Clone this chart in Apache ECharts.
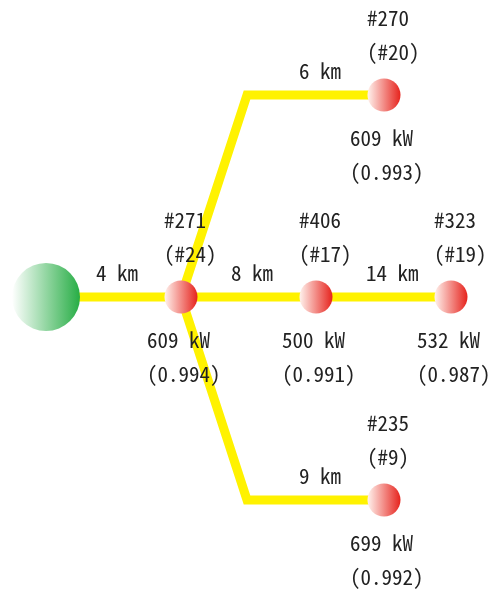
<!DOCTYPE html>
<html>
<head>
<meta charset="utf-8">
<script src="https://cdn.jsdelivr.net/npm/echarts@6/dist/echarts.min.js"></script>
<style>
html, body { margin: 0; padding: 0; background: #fff; }
#main { width: 495px; height: 593px; }
</style>
</head>
<body>
<div id="main"></div>
<script>
// 負荷点データ
var nodeNames = ['#271', '#406', '#323', '#270', '#235'];
var nodeSubs = ['(#24)', '(#17)', '(#19)', '(#20)', '(#9)'];
var nodeKw = [609, 500, 532, 609, 699];
var nodePf = [0.994, 0.991, 0.987, 0.993, 0.992];

// 区間 (from = -1 は電源)
var edgeFrom = [-1, 0, 1, 0, 0];
var edgeTo = [0, 1, 2, 3, 4];
var edgeKm = [4, 8, 14, 6, 9];

// 配置 (画面と同じ単位の座標)
var srcPos = [46, 297];
var nodePos = [[181, 297], [316, 297], [451, 297], [384, 95], [384, 500]];
var bendX = 247;

var FONT = '"Noto Sans Mono CJK JP", "Liberation Mono", monospace';
var TXT = '#222';

function $each(arr, fn) {
	for (var i = 0; i < arr.length; i++) fn(i, arr[i]);
}

function posOf(i) {
	return i < 0 ? srcPos : nodePos[i];
}

//区間の折れ線を作る
var lineData = [];
$each(edgeFrom, function (k, f) {
	var a = posOf(f), b = posOf(edgeTo[k]);
	var coords = [a];
	if (a[1] != b[1]) {
		coords.push([bendX, b[1]]);
	}
	coords.push(b);
	lineData.push({coords: coords});
});

var redFill = new echarts.graphic.LinearGradient(0, 0, 1, 0, [
	{offset: 0, color: '#fff3ee'},
	{offset: 1, color: '#e6231d'}
]);
var greenFill = new echarts.graphic.LinearGradient(0, 0, 1, 0, [
	{offset: 0, color: '#ffffff'},
	{offset: 1, color: '#27ad45'}
]);

var nodeData = [], kmData = [];
$each(nodeNames, function (i, name) {
	nodeData.push({value: nodePos[i], name: name, sub: nodeSubs[i], kw: nodeKw[i], pf: nodePf[i]});
});
$each(edgeTo, function (k, t) {
	kmData.push({value: nodePos[t], km: edgeKm[k]});
});

var txtStyle = {color: TXT, fontFamily: FONT, fontSize: 21, lineHeight: 34, opacity: 1};

var option = {
	animation: false,
	grid: {left: 0, right: 0, top: 0, bottom: 0},
	xAxis: {type: 'value', min: 0, max: 495, show: false},
	yAxis: {type: 'value', min: 0, max: 593, inverse: true, show: false},
	series: [
		{
			type: 'lines',
			coordinateSystem: 'cartesian2d',
			polyline: true,
			silent: true,
			z: 1,
			lineStyle: {color: '#fff200', width: 9, opacity: 1},
			data: lineData
		},
		{
			type: 'scatter',
			z: 3,
			silent: true,
			symbolSize: 68,
			itemStyle: {color: greenFill, opacity: 1},
			data: [srcPos]
		},
		{
			// 区間長ラベル（終点ノード基準）
			type: 'scatter',
			z: 4,
			silent: true,
			symbolSize: 1,
			itemStyle: {color: '#fff', opacity: 0},
			label: Object.assign({show: true, position: 'inside', align: 'left', verticalAlign: 'middle',
				offset: [-85, -24], textBorderWidth: 0,
				formatter: function (p) {
					return p.data.km + ' km';
				}
			}, txtStyle),
			data: kmData
		},
		{
			type: 'scatter',
			z: 5,
			silent: true,
			symbolSize: 33,
			itemStyle: {color: redFill, opacity: 1},
			label: {
				show: true,
				position: 'inside',
				align: 'left',
				verticalAlign: 'middle',
				offset: [-34, 0],
				textBorderWidth: 0,
				color: TXT,
				opacity: 1,
				formatter: function (p) {
					var d = p.data;
					return '{t|' + d.name + '}\n{t|' + d.sub + '}\n{gap| }\n{b|' + d.kw + ' kW}\n{b|(' + d.pf.toFixed(3) + ')}';
				},
				rich: {
					t: Object.assign({padding: [0, 0, 0, 17]}, txtStyle),
					b: Object.assign({}, txtStyle),
					gap: {height: 52, lineHeight: 52, fontSize: 10}
				}
			},
			data: nodeData
		}
	]
};

echarts.init(document.getElementById('main')).setOption(option);
</script>
</body>
</html>
